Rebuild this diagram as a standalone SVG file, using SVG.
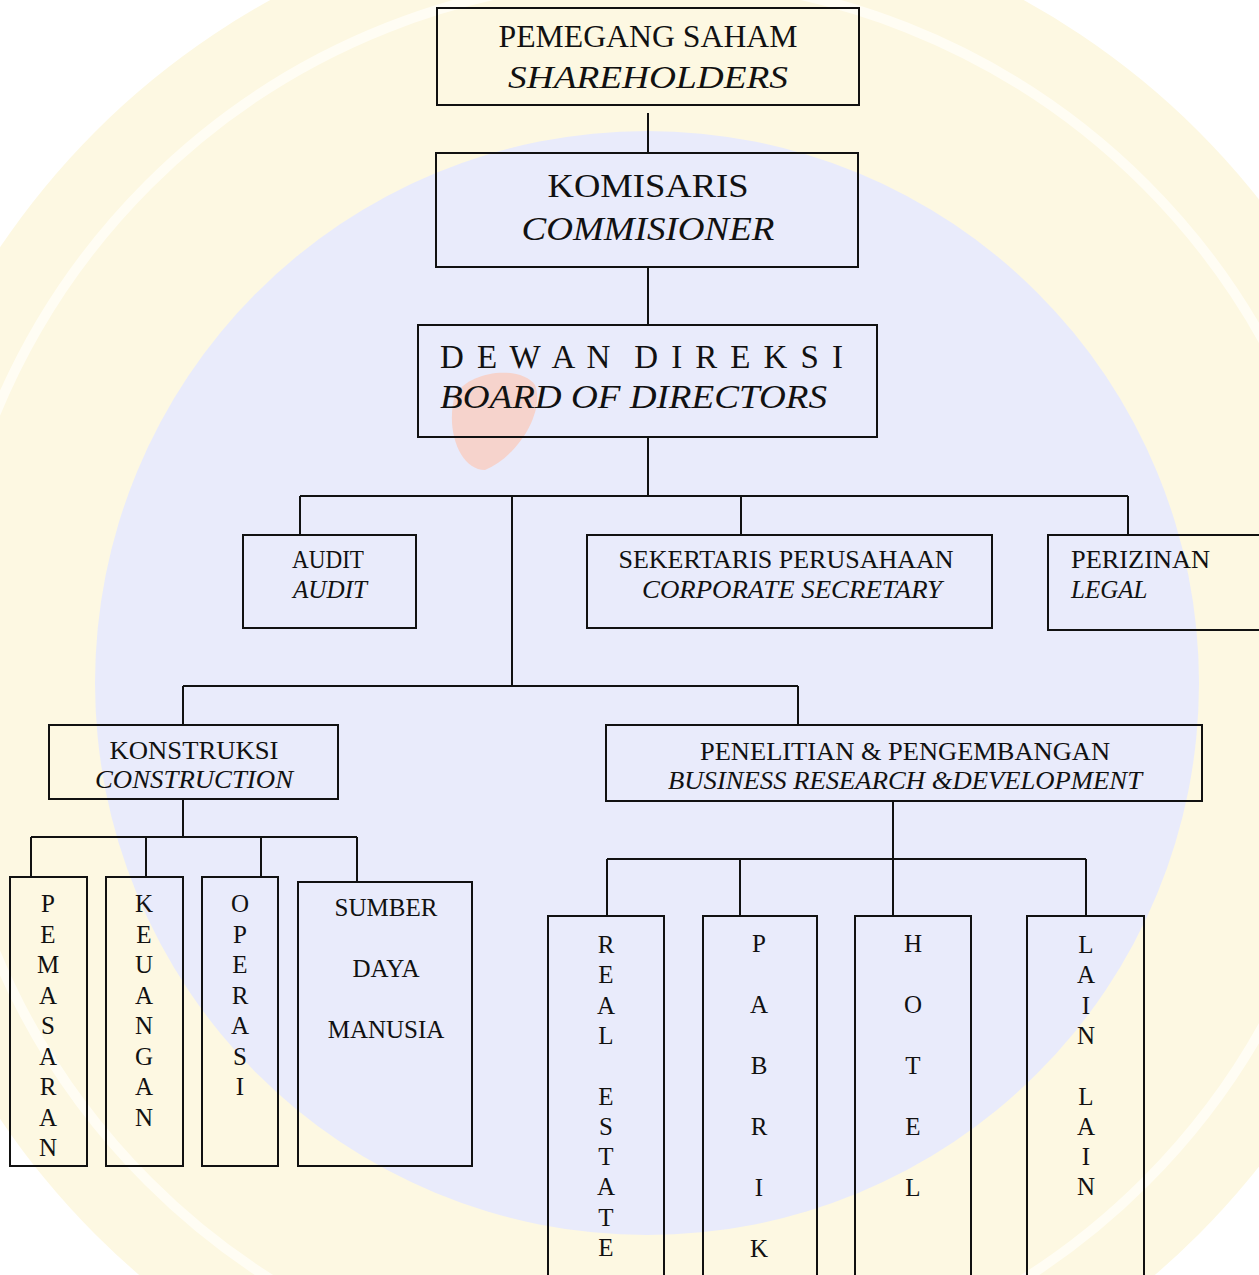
<svg xmlns="http://www.w3.org/2000/svg" width="1259" height="1275" viewBox="0 0 1259 1275">
<style>
.box{fill:none;stroke:#111;stroke-width:2}
.ln{fill:none;stroke:#111;stroke-width:2}
text{font-family:"Liberation Serif","Times New Roman",serif;fill:#111}
.t30{font-size:31px}
.t33{font-size:33px}
.t25{font-size:25px}
.t26{font-size:26px}
.it{font-style:italic}
.c{text-anchor:middle}
</style>
<g id="watermark">
<rect x="0" y="0" width="1259" height="1275" fill="#ffffff"/>
<circle cx="647" cy="683" r="780" fill="#fdf8e2"/>
<circle cx="647" cy="683" r="705" fill="none" stroke="#fffdf4" stroke-width="10"/>
<circle cx="647" cy="683" r="552" fill="#e9ebfb"/>
<path d="M455 395 C470 370 520 365 535 385 C545 410 520 455 485 470 C460 470 445 430 455 395 Z" fill="#f6d3cc"/>
</g>
<g id="connectors">
<path class="ln" d="M648 113 V153"/>
<path class="ln" d="M648 267 V325"/>
<path class="ln" d="M648 437 V496"/>
<path class="ln" d="M300 496 H1128"/>
<path class="ln" d="M300 496 V535"/>
<path class="ln" d="M512 496 V686"/>
<path class="ln" d="M741 496 V535"/>
<path class="ln" d="M1128 496 V535"/>
<path class="ln" d="M183 686 H798"/>
<path class="ln" d="M183 686 V725"/>
<path class="ln" d="M798 686 V725"/>
<path class="ln" d="M183 798 V837"/>
<path class="ln" d="M31 837 H357"/>
<path class="ln" d="M31 837 V877"/>
<path class="ln" d="M146 837 V877"/>
<path class="ln" d="M261 837 V877"/>
<path class="ln" d="M357 837 V882"/>
<path class="ln" d="M893 801 V859"/>
<path class="ln" d="M607 859 H1086"/>
<path class="ln" d="M607 859 V916"/>
<path class="ln" d="M740 859 V916"/>
<path class="ln" d="M893 859 V916"/>
<path class="ln" d="M1086 859 V916"/>
</g>
<g id="shareholders">
<rect class="box" x="437" y="8" width="422" height="97"/>
<text class="t30 c" x="648" y="47" textLength="299" lengthAdjust="spacingAndGlyphs">PEMEGANG SAHAM</text>
<text class="t30 c it" x="648" y="88" textLength="280" lengthAdjust="spacingAndGlyphs">SHAREHOLDERS</text>
</g>
<g id="komisaris">
<rect class="box" x="436" y="153" width="422" height="114"/>
<text class="t33 c" x="648" y="197" textLength="201" lengthAdjust="spacingAndGlyphs">KOMISARIS</text>
<text class="t33 c it" x="648" y="240" textLength="253" lengthAdjust="spacingAndGlyphs">COMMISIONER</text>
</g>
<g id="direksi">
<rect class="box" x="418" y="325" width="459" height="112"/>
<text class="t33" x="440" y="368" textLength="403" lengthAdjust="spacing" xml:space="preserve">D E W A N  D I R E K S I</text>
<text class="t33 it" x="440" y="408" textLength="387" lengthAdjust="spacingAndGlyphs">BOARD OF DIRECTORS</text>
</g>
<g id="audit">
<rect class="box" x="243" y="535" width="173" height="93"/>
<text class="t25 c" x="328" y="568" textLength="72" lengthAdjust="spacingAndGlyphs">AUDIT</text>
<text class="t25 c it" x="330" y="598" textLength="74" lengthAdjust="spacingAndGlyphs">AUDIT</text>
</g>
<g id="sekretaris">
<rect class="box" x="587" y="535" width="405" height="93"/>
<text class="t25 c" x="786" y="568" textLength="335" lengthAdjust="spacingAndGlyphs">SEKERTARIS PERUSAHAAN</text>
<text class="t25 c it" x="792" y="598" textLength="300" lengthAdjust="spacingAndGlyphs">CORPORATE SECRETARY</text>
</g>
<g id="perizinan">
<rect class="box" x="1048" y="535" width="220" height="95"/>
<text class="t25" x="1071" y="568" textLength="139" lengthAdjust="spacingAndGlyphs">PERIZINAN</text>
<text class="t25 it" x="1071" y="598">LEGAL</text>
</g>
<g id="konstruksi">
<rect class="box" x="49" y="725" width="289" height="74"/>
<text class="t25 c" x="194" y="759" textLength="169" lengthAdjust="spacingAndGlyphs">KONSTRUKSI</text>
<text class="t25 c it" x="194" y="788" textLength="198" lengthAdjust="spacingAndGlyphs">CONSTRUCTION</text>
</g>
<g id="penelitian">
<rect class="box" x="606" y="725" width="596" height="76"/>
<text class="t26 c" x="905" y="760" textLength="410" lengthAdjust="spacingAndGlyphs">PENELITIAN &amp; PENGEMBANGAN</text>
<text class="t26 c it" x="905" y="789" textLength="474" lengthAdjust="spacingAndGlyphs">BUSINESS RESEARCH &amp;DEVELOPMENT</text>
</g>
<g id="pemasaran">
<rect class="box" x="10" y="877" width="77" height="289"/>
<text class="t25 c"><tspan x="48" y="912">P</tspan><tspan x="48" y="942.5">E</tspan><tspan x="48" y="973">M</tspan><tspan x="48" y="1003.5">A</tspan><tspan x="48" y="1034">S</tspan><tspan x="48" y="1064.5">A</tspan><tspan x="48" y="1095">R</tspan><tspan x="48" y="1125.5">A</tspan><tspan x="48" y="1156">N</tspan></text>
</g>
<g id="keuangan">
<rect class="box" x="106" y="877" width="77" height="289"/>
<text class="t25 c"><tspan x="144" y="912">K</tspan><tspan x="144" y="942.5">E</tspan><tspan x="144" y="973">U</tspan><tspan x="144" y="1003.5">A</tspan><tspan x="144" y="1034">N</tspan><tspan x="144" y="1064.5">G</tspan><tspan x="144" y="1095">A</tspan><tspan x="144" y="1125.5">N</tspan></text>
</g>
<g id="operasi">
<rect class="box" x="202" y="877" width="76" height="289"/>
<text class="t25 c"><tspan x="240" y="912">O</tspan><tspan x="240" y="942.5">P</tspan><tspan x="240" y="973">E</tspan><tspan x="240" y="1003.5">R</tspan><tspan x="240" y="1034">A</tspan><tspan x="240" y="1064.5">S</tspan><tspan x="240" y="1095">I</tspan></text>
</g>
<g id="sdm">
<rect class="box" x="298" y="882" width="174" height="284"/>
<text class="t25 c" x="386" y="916">SUMBER</text>
<text class="t25 c" x="386" y="977">DAYA</text>
<text class="t25 c" x="386" y="1038">MANUSIA</text>
</g>
<g id="realestate">
<rect class="box" x="548" y="916" width="116" height="370"/>
<text class="t25 c"><tspan x="606" y="953">R</tspan><tspan x="606" y="983.3">E</tspan><tspan x="606" y="1013.6">A</tspan><tspan x="606" y="1043.9">L</tspan><tspan x="606" y="1104.5">E</tspan><tspan x="606" y="1134.8">S</tspan><tspan x="606" y="1165.1">T</tspan><tspan x="606" y="1195.4">A</tspan><tspan x="606" y="1225.7">T</tspan><tspan x="606" y="1256">E</tspan></text>
</g>
<g id="pabrik">
<rect class="box" x="703" y="916" width="114" height="370"/>
<text class="t25 c"><tspan x="759" y="952">P</tspan><tspan x="759" y="1013">A</tspan><tspan x="759" y="1074">B</tspan><tspan x="759" y="1135">R</tspan><tspan x="759" y="1196">I</tspan><tspan x="759" y="1257">K</tspan></text>
</g>
<g id="hotel">
<rect class="box" x="855" y="916" width="116" height="370"/>
<text class="t25 c"><tspan x="913" y="952">H</tspan><tspan x="913" y="1013">O</tspan><tspan x="913" y="1074">T</tspan><tspan x="913" y="1135">E</tspan><tspan x="913" y="1196">L</tspan></text>
</g>
<g id="lainlain">
<rect class="box" x="1027" y="916" width="117" height="370"/>
<text class="t25 c"><tspan x="1086" y="953">L</tspan><tspan x="1086" y="983.3">A</tspan><tspan x="1086" y="1013.6">I</tspan><tspan x="1086" y="1043.9">N</tspan><tspan x="1086" y="1104.5">L</tspan><tspan x="1086" y="1134.8">A</tspan><tspan x="1086" y="1165.1">I</tspan><tspan x="1086" y="1195.4">N</tspan></text>
</g>
</svg>
